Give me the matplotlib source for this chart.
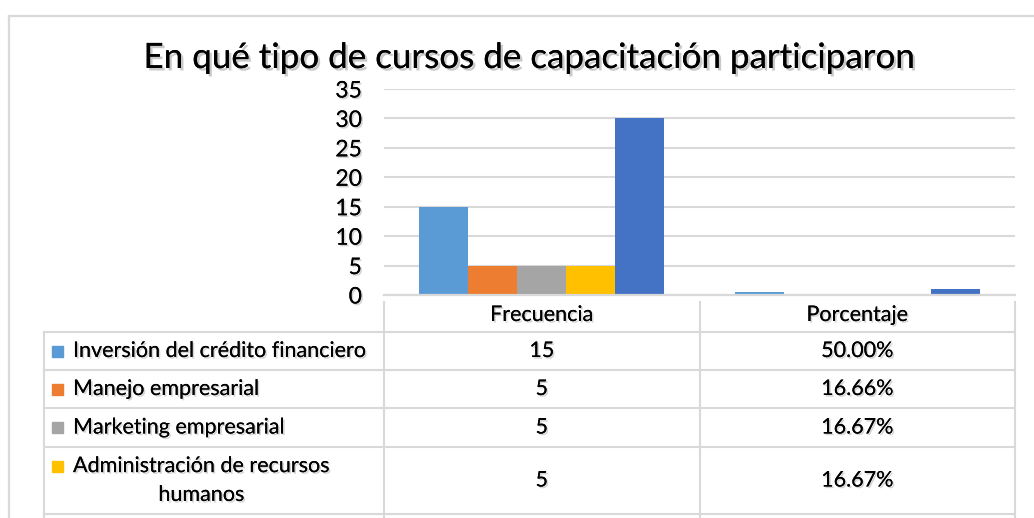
import textwrap
import numpy as np
import matplotlib as mpl
mpl.use('Agg')
import matplotlib.pyplot as plt
import matplotlib.patheffects as pe
from matplotlib import transforms
from matplotlib.lines import Line2D
from matplotlib.patches import Rectangle

# data
categories = ['Frecuencia', 'Porcentaje']
series_names = ['Inversión del crédito financiero', 'Manejo empresarial',
                'Marketing empresarial', 'Administración de recursos humanos', 'Total']
frecuencia = [15, 5, 5, 5, 30]
porcentaje = [0.50, 0.1666, 0.1667, 0.1667, 1.00]
colors = ['#5B9BD5', '#ED7D31', '#A5A5A5', '#FFC000', '#4472C4']
title = 'En qué tipo de cursos de capacitación participaron'

plt.rcParams['font.family'] = ['Lato', 'DejaVu Sans']

W, H = 1034, 518
fig = plt.figure(figsize=(W / 100, H / 100), dpi=100)
fx = lambda px: px / W
fy = lambda py: 1 - py / H

ax = fig.add_axes([fx(384), fy(295), fx(1015) - fx(384), fy(89) - fy(295)])

shadow = [pe.withSimplePatchShadow(offset=(1.2, -1.2), shadow_rgbFace='#777777', alpha=0.3), pe.Normal()]
grid_c = '#d9d9d9'
fs = 15.5

x = np.arange(len(categories))
w = 0.155
n = len(series_names)
for i in range(n):
    vals = [frecuencia[i], porcentaje[i]]
    ax.bar(x + (i - (n - 1) / 2) * w, vals, width=w, color=colors[i], zorder=3)

ax.set_xlim(-0.5, 1.5)
ax.set_ylim(0, 35)
ax.set_yticks(range(0, 36, 5))
ax.set_xticks([])
ax.grid(axis='y', color=grid_c, linewidth=1.5, zorder=0)
ax.axhline(0, color=grid_c, linewidth=1.6, zorder=4, clip_on=False)
ax.tick_params(axis='y', length=0, pad=16, labelsize=16.5)
for lab in ax.get_yticklabels():
    lab.set_path_effects(shadow)
for s in ax.spines.values():
    s.set_visible(False)
ax.set_facecolor('none')

# title
fig.text(fx(530), fy(58), title, ha='center', va='center', fontsize=25.2,
         path_effects=[pe.withSimplePatchShadow(offset=(1.8, -1.8), shadow_rgbFace='#666666', alpha=0.35), pe.Normal()])

# outer border
fig.add_artist(Line2D([fx(9), fx(W)], [fy(16), fy(16)], color=grid_c, lw=1.6, transform=fig.transFigure))
fig.add_artist(Line2D([fx(9), fx(9)], [fy(16), fy(H)], color=grid_c, lw=1.6, transform=fig.transFigure))

# data table (the last row is below the visible area)
bt = transforms.blended_transform_factory(ax.transData, fig.transFigure)
row_h = [38, 38, 39, 67, 38]
row_top = 332
edges = [-0.5, 0.5, 1.5]
for xe in edges:
    ax.add_line(Line2D([xe, xe], [fy(302), fy(H + 10)], color=grid_c, lw=1.5,
                       transform=bt, clip_on=False))
fig.add_artist(Line2D([fx(44), fx(44)], [fy(row_top), fy(H + 10)], color=grid_c, lw=1.5,
                      transform=fig.transFigure))

for j, cat in enumerate(categories):
    ax.text(x[j], fy(315), cat, ha='center', va='center', fontsize=fs,
            transform=bt, path_effects=shadow)

y = row_top
for i in range(n):
    fig.add_artist(Line2D([fx(44), fx(1015)], [fy(y), fy(y)], color=grid_c, lw=1.5,
                          transform=fig.transFigure))
    if y + row_h[i] > H:
        break
    yc = y + row_h[i] / 2
    fig.add_artist(Rectangle((fx(52), fy(y + 19 + 5.5)), fx(11), 11 / H,
                             color=colors[i], transform=fig.transFigure))
    fig.text(fx(73), fy(yc), textwrap.fill(series_names[i], 32), ha='left', va='center',
             multialignment='center', fontsize=fs, linespacing=1.55, path_effects=shadow)
    ax.text(x[0], fy(yc), str(frecuencia[i]), ha='center', va='center', fontsize=fs,
            transform=bt, path_effects=shadow)
    ax.text(x[1], fy(yc), f'{porcentaje[i] * 100:.2f}%', ha='center', va='center',
            fontsize=fs, transform=bt, path_effects=shadow)
    y += row_h[i]

fig.savefig('out.png', dpi=100)
